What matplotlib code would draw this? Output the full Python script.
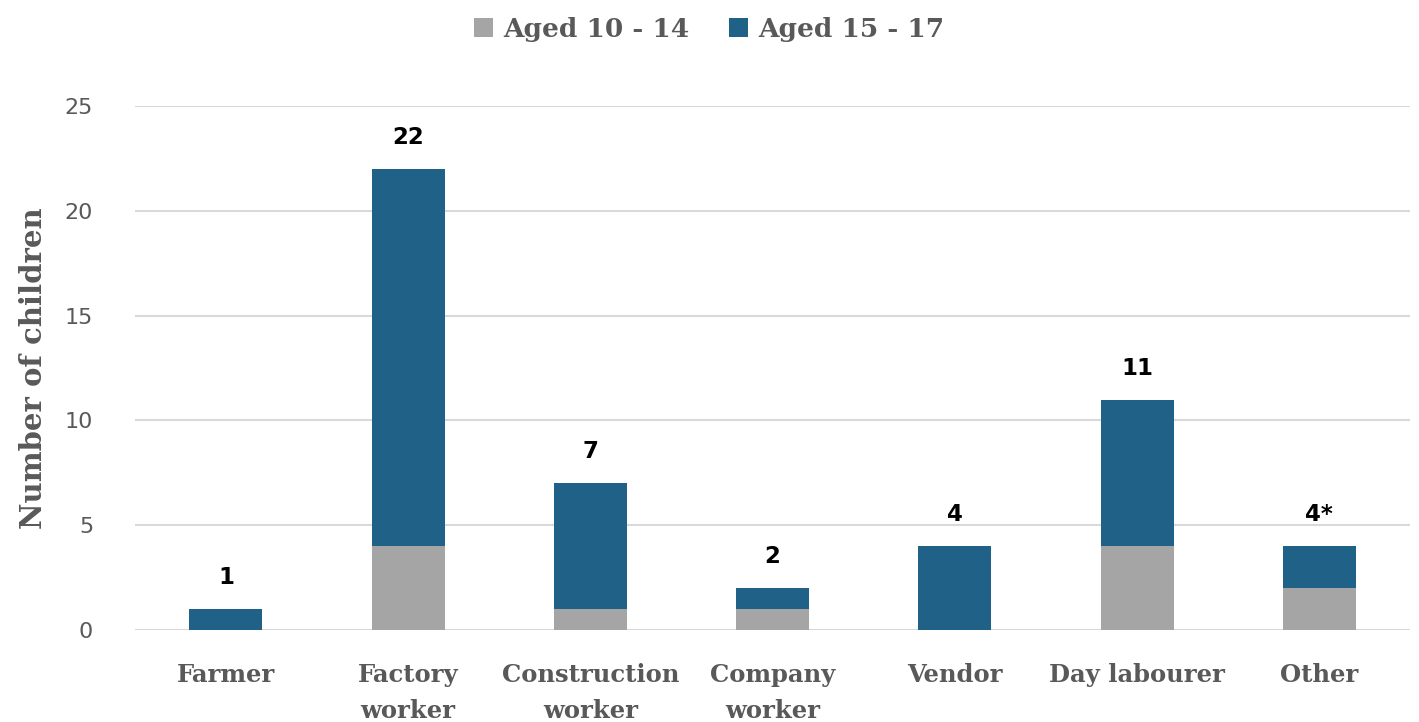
import matplotlib
matplotlib.use("Agg")
import matplotlib.pyplot as plt
import numpy as np

categories = ["Farmer", "Factory\nworker", "Construction\nworker", "Company\nworker", "Vendor", "Day labourer", "Other"]
aged_10_14 = [0, 4, 1, 1, 0, 4, 2]
aged_15_17 = [1, 18, 6, 1, 4, 7, 2]
total_labels = ["1", "22", "7", "2", "4", "11", "4*"]
yticks = [0, 5, 10, 15, 20, 25]

GRAY = "#A5A5A5"
BLUE = "#1F6187"
TXT = "#595959"
GRID = "#D9D9D9"

from matplotlib import font_manager
names = {f.name for f in font_manager.fontManager.ttflist}
slab = "DejaVu Serif"
if "DejaVu Serif Condensed" in names:
    slab = "DejaVu Serif Condensed"

fig = plt.figure(figsize=(14.19, 7.22), dpi=100)
ax = fig.add_axes([0.095, 0.1274, 0.899, 0.7256])

x = np.arange(len(categories))
w = 0.40
ax.bar(x, aged_10_14, w, color=GRAY, label="Aged 10 - 14", zorder=3)
ax.bar(x, aged_15_17, w, bottom=aged_10_14, color=BLUE, label="Aged 15 - 17", zorder=3)

totals = np.array(aged_10_14) + np.array(aged_15_17)
for xi, t, lab in zip(x, totals, total_labels):
    ax.text(xi, t + 0.95, lab, ha="center", va="bottom", fontsize=16.5,
            fontweight="bold", color="black", family="DejaVu Sans")

ax.set_xlim(-0.5, len(categories) - 0.5)
ax.set_ylim(0, 25)
ax.set_yticks(yticks)
ax.set_yticklabels([str(v) for v in yticks], fontsize=16, color=TXT)
ax.set_xticks(x)
ax.set_xticklabels(categories, fontsize=17.5, color=TXT, family=slab, fontweight="bold",
                   linespacing=1.6, va="top")
ax.tick_params(axis="both", length=0)
ax.tick_params(axis="x", pad=24)
ax.tick_params(axis="y", pad=30)
ax.yaxis.grid(True, color=GRID, linewidth=1.5, zorder=0)
for s in ax.spines.values():
    s.set_visible(False)
ax.set_ylabel("Number of children", fontsize=21, color=TXT, family=slab,
              fontweight="bold", labelpad=12)

leg = fig.legend(loc="upper center", bbox_to_anchor=(0.5, 1.01), ncol=2, frameon=False,
                 prop={"family": slab, "weight": "bold", "size": 19},
                 handlelength=0.7, handleheight=0.7, columnspacing=1.5, handletextpad=0.4)
for t in leg.get_texts():
    t.set_color(TXT)

fig.savefig("out.png", dpi=100)
